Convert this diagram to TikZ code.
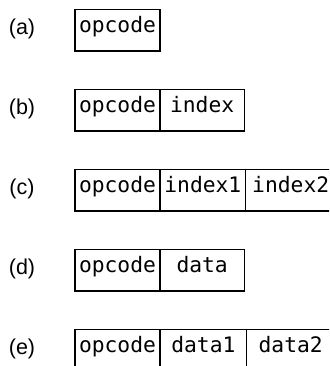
\documentclass[tikz,border=0pt]{standalone}
\usepackage{fontspec}
\setmainfont{Liberation Sans}
\newfontfamily\fieldfont{DejaVu Sans Mono}
\tikzset{
  field/.style={draw, line width=1.45pt, rectangle, anchor=north west, inner sep=0pt, outer sep=0pt,
    minimum height=41.7pt, font=\fieldfont\fontsize{21.3}{24}\selectfont, text height=0.8em, text depth=0.25em},
  rowlabel/.style={anchor=base, inner sep=0pt, font=\fontsize{21.5}{24}\selectfont}
}
\begin{document}
\begin{tikzpicture}[x=1pt,y=-1pt]
\useasboundingbox (0,0) rectangle (329,366);
\clip (0,0) rectangle (329,366);
% (a)
\node[rowlabel] (la) at (22,34.8) {(a)};
\node[field, minimum width=85pt] (a1) at (75,9.3) {opcode};
% (b)
\node[rowlabel] (lb) at (22,114.8) {(b)};
\node[field, minimum width=85pt] (b1) at (75,89.3) {opcode};
\node[field, minimum width=84.3pt] (b2) at (b1.north east) {index};
% (c)
\node[rowlabel] (lc) at (22,194.8) {(c)};
\node[field, minimum width=85pt] (c1) at (75,169.3) {opcode};
\node[field, minimum width=85.7pt] (c2) at (c1.north east) {index1};
\node[field, minimum width=90pt] (c3) at (c2.north east) {index2};
% (d)
\node[rowlabel] (ld) at (22,274.8) {(d)};
\node[field, minimum width=85pt] (d1) at (75,249.3) {opcode};
\node[field, minimum width=84.3pt] (d2) at (d1.north east) {data};
% (e)
\node[rowlabel] (le) at (22,354.8) {(e)};
\node[field, minimum width=85pt] (e1) at (75,329.3) {opcode};
\node[field, minimum width=86.7pt] (e2) at (e1.north east) {data1};
\node[field, minimum width=88pt] (e3) at (e2.north east) {data2};
\end{tikzpicture}
\end{document}
